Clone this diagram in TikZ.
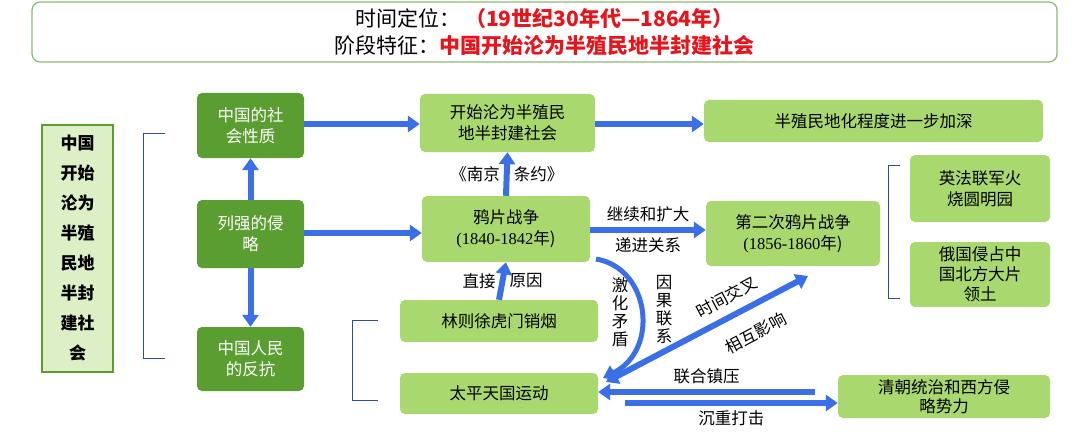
\documentclass[tikz,border=0pt]{standalone}
\usepackage{fontspec}
\setmainfont{Noto Sans CJK SC}
\usetikzlibrary{arrows.meta}
\definecolor{dg}{HTML}{5A9E32}
\definecolor{lg}{HTML}{A8D86E}
\definecolor{bl}{HTML}{3A6FE8}
\definecolor{rd}{HTML}{E8141B}
\tikzset{
 dbox/.style={draw=none,fill=dg,rounded corners=5pt,text=white,align=center,font=\fontsize{16.5}{21}\selectfont,inner sep=0pt},
 lbox/.style={draw=none,fill=lg,rounded corners=5pt,align=center,font=\fontsize{16.5}{21}\selectfont,inner sep=0pt},
 barr/.style={draw=bl,line width=6pt,-{Triangle[length=12pt,width=16pt]}},
 lab/.style={font=\fontsize{16.5}{19}\selectfont,inner sep=1pt},
 brk/.style={draw=bl!70!black,line width=1pt}
}
\begin{document}
\begin{tikzpicture}[x=1pt,y=-1pt]
\useasboundingbox (0,0) rectangle (1080,436);
\node[draw=dg!70,line width=1.2pt,rounded corners=8pt,minimum width=1025pt,minimum height=60pt,align=center,font=\fontsize{21}{27}\selectfont] (hd) at (544.5,32)
 {时间定位：\ \textcolor{rd}{\textbf{（19世纪30年代—1864年）}}\\阶段特征：\textcolor{rd}{\textbf{中国开始沦为半殖民地半封建社会}}};
\node[draw=dg,line width=1.5pt,fill=lg!40,minimum width=71pt,minimum height=247pt,align=center,font=\fontsize{17}{30}\selectfont\bfseries,inner sep=0pt] (lf) at (77.5,248.5)
 {中国\\开始\\沦为\\半殖\\民地\\半封\\建社\\会};
\draw[brk] (165,133) -- (143,133) -- (143,358) -- (165,358);
\node[dbox,minimum width=107pt,minimum height=65pt] (xz) at (250.5,125.5) {中国的社\\会性质};
\node[dbox,minimum width=107pt,minimum height=68pt] (qr) at (250.5,234) {列强的侵\\略};
\node[dbox,minimum width=107pt,minimum height=64pt] (fk) at (250.5,359) {中国人民\\的反抗};
\node[lbox,minimum width=175pt,minimum height=58pt] (kl) at (507.5,123) {开始沦为半殖民\\地半封建社会};
\node[lbox,minimum width=339pt,minimum height=42pt] (bz) at (873.5,121) {半殖民地化程度进一步加深};
\node[lbox,minimum width=168pt,minimum height=66pt] (yp) at (506,229) {鸦片战争\\{\fontspec{Liberation Serif}(1840-1842}年)};
\node[lbox,minimum width=174pt,minimum height=65pt] (d2) at (793,233.5) {第二次鸦片战争\\{\fontspec{Liberation Serif}(1856-1860}年)};
\node[lbox,minimum width=140pt,minimum height=67pt] (yf) at (980,188.5) {英法联军火\\烧圆明园};
\node[lbox,minimum width=140pt,minimum height=65pt,font=\fontsize{16.5}{20}\selectfont] (eg) at (980,274.5) {俄国侵占中\\国北方大片\\领土};
\draw[brk] (900,165) -- (888,165) -- (888,298) -- (900,298);
\node[lbox,minimum width=198pt,minimum height=42pt] (lz) at (499,321) {林则徐虎门销烟};
\node[lbox,minimum width=198pt,minimum height=41pt] (tp) at (499,393.5) {太平天国运动};
\node[lbox,minimum width=212pt,minimum height=43pt,font=\fontsize{16.5}{19}\selectfont] (qc) at (944,396.5) {清朝统治和西方侵\\略势力};
\draw[brk] (378,320) -- (352,320) -- (352,400) -- (378,400);
% arrows
\draw[barr] (xz.east|-0,124) -- (kl.west|-0,124);
\draw[barr] (kl.east|-0,124) -- (bz.west|-0,124);
\draw[barr] (yp.north) -- (kl.south) node[midway,left=3pt,lab]{《南京} node[midway,right=3pt,lab]{条约》};
\draw[barr] (qr.north) -- (xz.south);
\draw[barr] (qr.south) -- (fk.north);
\draw[barr] (qr.east|-0,233) -- (yp.west|-0,233);
\draw[barr] (yp.east|-0,230) -- (d2.west|-0,230) node[midway,above=4pt,lab]{继续和扩大} node[midway,below=4pt,lab]{递进关系};
\draw[barr] (lz.north) -- (yp.south) node[midway,left=3pt,lab]{直接} node[midway,right=3pt,lab]{原因};
\draw[barr,line width=5pt] (596,259) .. controls (650,268) and (660,350) .. (603,378);
\node[lab,align=center,font=\fontsize{16.5}{18}\selectfont] (jh) at (620,312) {激\\化\\矛\\盾};
\node[lab,align=center,font=\fontsize{16.5}{18}\selectfont] (yg) at (664,309) {因\\果\\联\\系};
\coordinate (da) at (606,382);
\coordinate (db) at (808,276);
\draw[draw=bl,line width=6pt,{Triangle[length=12pt,width=16pt]}-{Triangle[length=12pt,width=16pt]}] (da) -- (db);
\node[lab,rotate=28] at (727,297) {时间交叉};
\node[lab,rotate=28] at (756,333) {相互影响};
\coordinate (lh) at (815,392);
\draw[barr] (lh) -- (tp.east|-0,392) node[midway,above=4pt,lab]{联合镇压};
\coordinate (cz) at (625,403);
\draw[barr] (cz) -- (qc.west|-0,403) node[midway,below=4pt,lab]{沉重打击};
\end{tikzpicture}
\end{document}
